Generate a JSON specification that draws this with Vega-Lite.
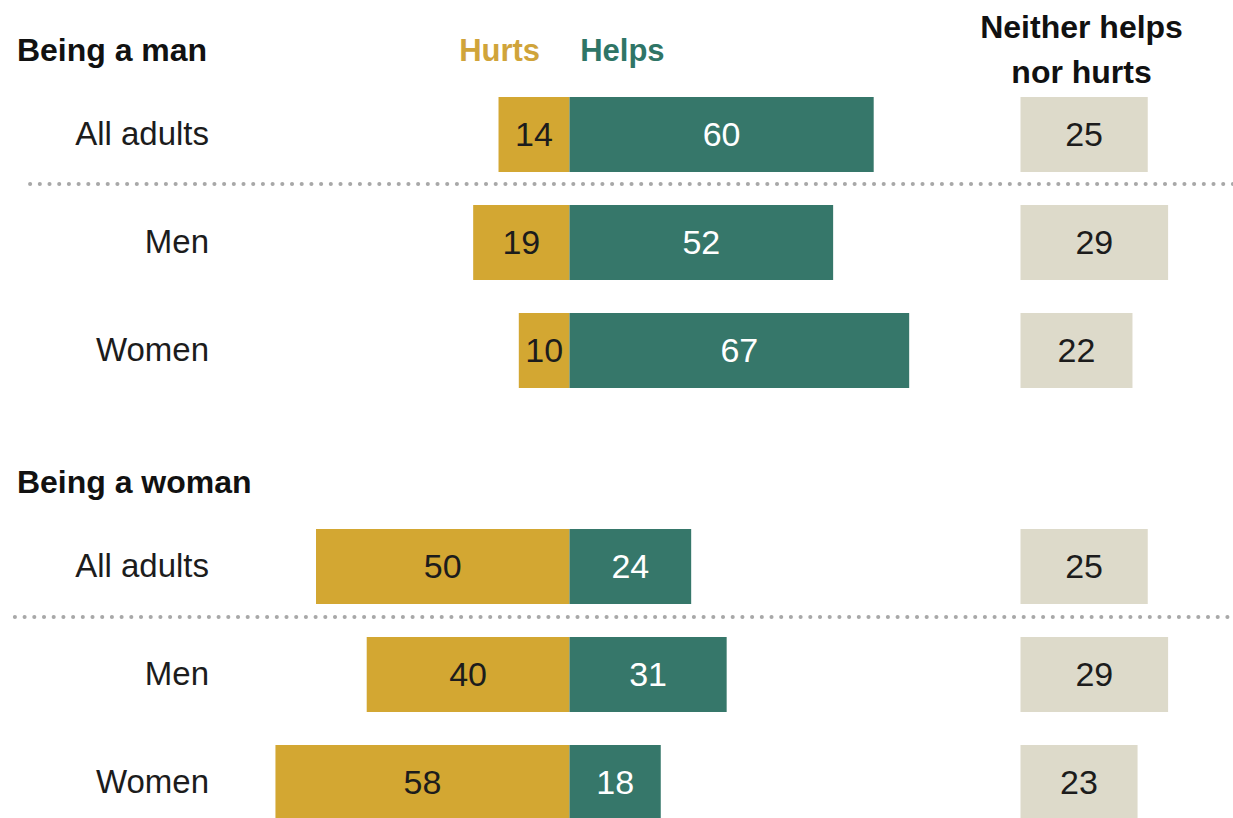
{
  "$schema": "https://vega.github.io/schema/vega-lite/v6.json",
  "width": 1233,
  "height": 818,
  "autosize": {"type": "none"},
  "padding": 0,
  "background": "white",
  "config": {"view": {"stroke": null}, "text": {"font": "Liberation Sans"}},
  "datasets": {
    "rows": [
      {"key": "m_all", "group": "All adults", "hurts": 14, "helps": 60, "neither": 25},
      {"key": "m_men", "group": "Men", "hurts": 19, "helps": 52, "neither": 29},
      {"key": "m_women", "group": "Women", "hurts": 10, "helps": 67, "neither": 22},
      {"key": "w_all", "group": "All adults", "hurts": 50, "helps": 24, "neither": 25},
      {"key": "w_men", "group": "Men", "hurts": 40, "helps": 31, "neither": 29},
      {"key": "w_women", "group": "Women", "hurts": 58, "helps": 18, "neither": 23}
    ],
    "sections": [
      {"key": "hdr1", "label": "Being a man"},
      {"key": "hdr2", "label": "Being a woman"}
    ]
  },
  "data": {"name": "rows"},
  "resolve": {"scale": {"x": "independent"}},
  "layer": [
    {
      "transform": [{"filter": "datum.key === 'm_all'"}],
      "mark": {"type": "rule", "strokeDash": [0.1, 9.6], "strokeCap": "round", "strokeWidth": 4, "color": "#a8a8a8", "yOffset": 49.5},
      "encoding": {
        "y": {"field": "key", "type": "nominal", "scale": {"type": "point", "domain": ["hdr1", "m_all", "m_men", "m_women", "hdr2", "w_all", "w_men", "w_women"], "range": [26.5, 782.5], "padding": 0}, "axis": null},
        "x": {"datum": -106.4, "type": "quantitative", "scale": {"domain": [-112.33, 130.87], "nice": false, "zero": false}, "axis": null},
        "x2": {"datum": 130.87}
      }
    },
    {
      "transform": [{"filter": "datum.key === 'w_all'"}],
      "mark": {"type": "rule", "strokeDash": [0.1, 9.6], "strokeCap": "round", "strokeWidth": 4, "color": "#a8a8a8", "yOffset": 50.5},
      "encoding": {
        "y": {"field": "key", "type": "nominal"},
        "x": {"datum": -109.4, "type": "quantitative", "scale": {"domain": [-112.33, 130.87], "nice": false, "zero": false}, "axis": null},
        "x2": {"datum": 130.87}
      }
    },
    {
      "mark": {"type": "bar", "height": 75, "color": "#D3A732"},
      "encoding": {
        "y": {"field": "key", "type": "nominal"},
        "x": {"field": "hurts", "type": "quantitative", "scale": {"domain": [-130.87, 112.33], "reverse": true, "nice": false, "zero": false}, "axis": null},
        "x2": {"datum": 0}
      }
    },
    {
      "mark": {"type": "bar", "height": 75, "color": "#36776A"},
      "encoding": {
        "y": {"field": "key", "type": "nominal"},
        "x": {"field": "helps", "type": "quantitative", "scale": {"domain": [-112.33, 130.87], "nice": false, "zero": false}, "axis": null},
        "x2": {"datum": 0}
      }
    },
    {
      "mark": {"type": "bar", "height": 75, "color": "#DDDACA"},
      "encoding": {
        "y": {"field": "key", "type": "nominal"},
        "x": {"field": "neither", "type": "quantitative", "scale": {"domain": [-200.49, 41.75], "nice": false, "zero": false}, "axis": null},
        "x2": {"datum": 0}
      }
    },
    {
      "mark": {"type": "text", "fontSize": 34, "color": "#1c1c1c", "align": "center", "baseline": "middle", "dy": 1},
      "encoding": {
        "y": {"field": "key", "type": "nominal"},
        "x": {"field": "hurts", "type": "quantitative", "scale": {"domain": [-261.74, 224.66], "reverse": true, "nice": false, "zero": false}, "axis": null},
        "text": {"field": "hurts"}
      }
    },
    {
      "mark": {"type": "text", "fontSize": 34, "color": "#ffffff", "align": "center", "baseline": "middle", "dy": 1},
      "encoding": {
        "y": {"field": "key", "type": "nominal"},
        "x": {"field": "helps", "type": "quantitative", "scale": {"domain": [-224.66, 261.74], "nice": false, "zero": false}, "axis": null},
        "text": {"field": "helps"}
      }
    },
    {
      "mark": {"type": "text", "fontSize": 34, "color": "#1c1c1c", "align": "center", "baseline": "middle", "dy": 1},
      "encoding": {
        "y": {"field": "key", "type": "nominal"},
        "x": {"field": "neither", "type": "quantitative", "scale": {"domain": [-400.98, 83.5], "nice": false, "zero": false}, "axis": null},
        "text": {"field": "neither"}
      }
    },
    {
      "mark": {"type": "text", "fontSize": 33, "color": "#1c1c1c", "align": "right", "baseline": "middle"},
      "encoding": {
        "y": {"field": "key", "type": "nominal"},
        "x": {"datum": -71.1, "type": "quantitative", "scale": {"domain": [-112.33, 130.87], "nice": false, "zero": false}, "axis": null},
        "text": {"field": "group"}
      }
    },
    {
      "data": {"name": "sections"},
      "mark": {"type": "text", "fontSize": 32, "fontWeight": "bold", "color": "#111111", "align": "left", "baseline": "middle", "yOffset": 24.5},
      "encoding": {
        "y": {"field": "key", "type": "nominal"},
        "x": {"datum": -109, "type": "quantitative", "scale": {"domain": [-112.33, 130.87], "nice": false, "zero": false}, "axis": null},
        "text": {"field": "label"}
      }
    },
    {
      "data": {"values": [{"key": "hdr1", "label": "Hurts"}]},
      "mark": {"type": "text", "fontSize": 31, "fontWeight": "bold", "color": "#D0A43A", "align": "right", "baseline": "middle", "yOffset": 25.5},
      "encoding": {
        "y": {"field": "key", "type": "nominal"},
        "x": {"datum": -5.8, "type": "quantitative", "scale": {"domain": [-112.33, 130.87], "nice": false, "zero": false}, "axis": null},
        "text": {"field": "label"}
      }
    },
    {
      "data": {"values": [{"key": "hdr1", "label": "Helps"}]},
      "mark": {"type": "text", "fontSize": 31, "fontWeight": "bold", "color": "#2F7566", "align": "left", "baseline": "middle", "yOffset": 25.5},
      "encoding": {
        "y": {"field": "key", "type": "nominal"},
        "x": {"datum": 2.1, "type": "quantitative", "scale": {"domain": [-112.33, 130.87], "nice": false, "zero": false}, "axis": null},
        "text": {"field": "label"}
      }
    },
    {
      "data": {"values": [{"key": "hdr1", "label": ["Neither helps", "nor hurts"]}]},
      "mark": {"type": "text", "fontSize": 32, "fontWeight": "bold", "color": "#111111", "align": "center", "baseline": "middle", "lineHeight": 45, "yOffset": 1.5},
      "encoding": {
        "y": {"field": "key", "type": "nominal"},
        "x": {"datum": 101, "type": "quantitative", "scale": {"domain": [-112.33, 130.87], "nice": false, "zero": false}, "axis": null},
        "text": {"field": "label"}
      }
    }
  ]
}
